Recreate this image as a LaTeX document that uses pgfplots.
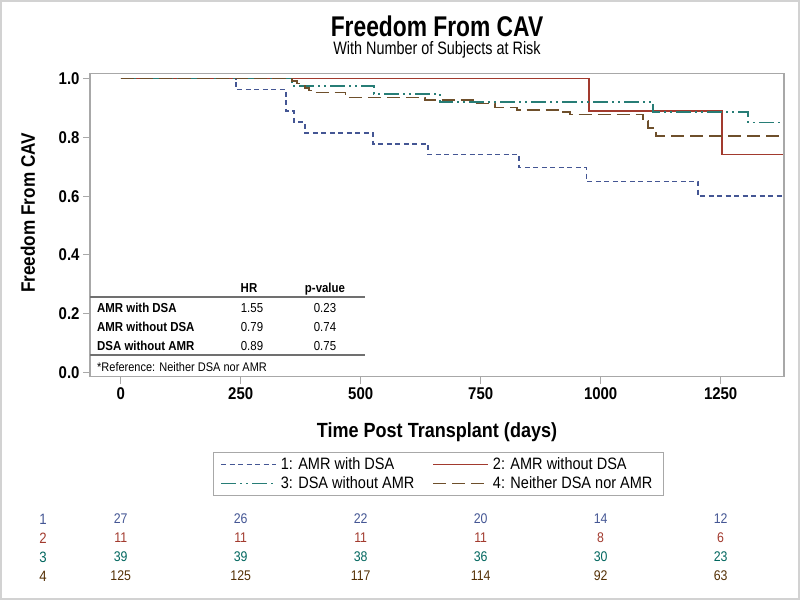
\documentclass[border=0pt]{standalone}
\usepackage{pgfplots}
\pgfplotsset{compat=1.18}
\usepackage{fontspec}
\setmainfont{Liberation Sans}[FakeStretch=0.88]
\newfontfamily\titlefont{Liberation Sans}[FakeStretch=0.80]
\definecolor{cA}{HTML}{445694}
\definecolor{cB}{HTML}{A23A2E}
\definecolor{cC}{HTML}{01665E}
\definecolor{cD}{HTML}{543005}
\definecolor{framegray}{HTML}{A8A8A8}
\definecolor{rulegray}{HTML}{707070}
\begin{document}
\begin{tikzpicture}
\useasboundingbox (0,0) rectangle (800bp,600bp);
\draw[gray!35, line width=2bp] (1bp,1bp) rectangle (799bp,599bp);
\node[anchor=base, inner sep=0pt, text depth=0pt, font=\titlefont\bfseries\fontsize{28.5bp}{30bp}\selectfont] at (437bp,563.5bp) {Freedom From CAV};
\node[anchor=base, inner sep=0pt, text height=12bp, font=\titlefont\fontsize{18bp}{20bp}\selectfont] at (437bp,545bp) {With Number of Subjects at Risk};
\begin{axis}[
  at={(90bp,223.3bp)}, anchor=south west,
  scale only axis, width=694bp, height=303.4bp,
  xmin=-64, xmax=1382, ymin=-0.014, ymax=1.018,
  xtick={0,250,500,750,1000,1250},
  ytick={0,0.2,0.4,0.6,0.8,1.0},
  xtick pos=bottom, ytick pos=left,
  tick align=outside, major tick length=7bp,
  tick style={framegray, line width=1bp},
  axis line style={framegray, line width=1.2bp},
  /pgf/number format/assume math mode=true,
  /pgf/number format/1000 sep={},
  yticklabel style={/pgf/number format/.cd, fixed, fixed zerofill, precision=1},
  tick label style={font=\bfseries\fontsize{17bp}{20bp}\selectfont},
  xlabel={Time Post Transplant (days)},
  ylabel={Freedom From CAV},
  xlabel style={font=\bfseries\fontsize{20.5bp}{24bp}\selectfont, at={(axis description cs:0.5,0)}, anchor=center, yshift=-55bp},
  ylabel style={font=\bfseries\fontsize{19.5bp}{22bp}\selectfont, at={(axis description cs:-0.0893,0.54)}, anchor=center},
  clip=false,
  legend columns=2,
  legend cell align=left,
  legend image code/.code={\draw[#1] (0bp,0bp) -- (55bp,0bp);},
  legend style={at={(axis description cs:0.502,-0.248)}, anchor=north, draw=framegray, line width=0.8bp,
    font=\fontsize{16.5bp}{19bp}\selectfont, inner xsep=7bp, inner ysep=4bp, row sep=2.5bp,
    nodes={inner ysep=1.5bp, inner xsep=4bp},
    /tikz/every even column/.append style={column sep=14bp}},
]
\addplot[const plot, cA, line width=1.5bp, dash pattern=on 5bp off 3.5bp] coordinates {
(0,1) (240,0.963) (344,0.889) (361,0.852) (384,0.815) (526,0.778) (640,0.741) (830,0.698) (971,0.650) (1203,0.600) (1380,0.600)};
\addlegendentry{1: AMR with DSA}
\addplot[const plot, cB, line width=1.5bp] coordinates {
(0,1) (976,0.889) (1253,0.741) (1380,0.741)};
\addlegendentry{2: AMR without DSA}
\addplot[const plot, cC!85!white, line width=1.5bp, dash pattern=on 15bp off 4bp on 2bp off 4bp on 2bp off 4bp] coordinates {
(0,1) (357,0.974) (528,0.947) (665,0.920) (1109,0.886) (1307,0.851) (1380,0.851)};
\addlegendentry{3: DSA without AMR}
\addplot[const plot, cD!85!white, line width=1.5bp, dash pattern=on 13bp off 6bp] coordinates {
(0,1) (357,0.992) (367,0.984) (376,0.976) (384,0.968) (392,0.960) (401,0.952) (468,0.936) (634,0.928) (734,0.915) (780,0.902) (826,0.894) (919,0.886) (936,0.877) (1088,0.855) (1099,0.832) (1115,0.804) (1380,0.804)};
\addlegendentry{4: Neither DSA nor AMR}
% numbers at risk
\pgfkeys{/tmp/risk/.style={anchor=center, font=\fontsize{14bp}{16bp}\selectfont}}
\node[/tmp/risk, cA] at (axis cs:0,-0.498) {27};
\node[/tmp/risk, cA] at (axis cs:250,-0.498) {26};
\node[/tmp/risk, cA] at (axis cs:500,-0.498) {22};
\node[/tmp/risk, cA] at (axis cs:750,-0.498) {20};
\node[/tmp/risk, cA] at (axis cs:1000,-0.498) {14};
\node[/tmp/risk, cA] at (axis cs:1250,-0.498) {12};
\node[/tmp/risk, cB] at (axis cs:0,-0.563) {11};
\node[/tmp/risk, cB] at (axis cs:250,-0.563) {11};
\node[/tmp/risk, cB] at (axis cs:500,-0.563) {11};
\node[/tmp/risk, cB] at (axis cs:750,-0.563) {11};
\node[/tmp/risk, cB] at (axis cs:1000,-0.563) {8};
\node[/tmp/risk, cB] at (axis cs:1250,-0.563) {6};
\node[/tmp/risk, cC] at (axis cs:0,-0.627) {39};
\node[/tmp/risk, cC] at (axis cs:250,-0.627) {39};
\node[/tmp/risk, cC] at (axis cs:500,-0.627) {38};
\node[/tmp/risk, cC] at (axis cs:750,-0.627) {36};
\node[/tmp/risk, cC] at (axis cs:1000,-0.627) {30};
\node[/tmp/risk, cC] at (axis cs:1250,-0.627) {23};
\node[/tmp/risk, cD] at (axis cs:0,-0.692) {125};
\node[/tmp/risk, cD] at (axis cs:250,-0.692) {125};
\node[/tmp/risk, cD] at (axis cs:500,-0.692) {117};
\node[/tmp/risk, cD] at (axis cs:750,-0.692) {114};
\node[/tmp/risk, cD] at (axis cs:1000,-0.692) {92};
\node[/tmp/risk, cD] at (axis cs:1250,-0.692) {63};
\end{axis}
% group labels of the at-risk table
\begin{scope}[every node/.style={anchor=center, font=\fontsize{15bp}{17bp}\selectfont}]
\node[cA] at (43bp,81bp) {1};
\node[cB] at (43bp,62bp) {2};
\node[cC] at (43bp,43bp) {3};
\node[cD] at (43bp,24bp) {4};
\end{scope}
% inset hazard-ratio table
\begin{scope}[every node/.style={font=\fontsize{13bp}{15bp}\selectfont, inner sep=0pt}]
\node[anchor=base, font=\bfseries\fontsize{13bp}{15bp}\selectfont] at (249bp,307.5bp) {HR};
\node[anchor=base, font=\bfseries\fontsize{13bp}{15bp}\selectfont] at (325bp,307.5bp) {p-value};
\draw[rulegray, line width=1.6bp] (90bp,303bp) -- (365bp,303bp);
\node[anchor=base west, font=\bfseries\fontsize{13bp}{15bp}\selectfont] at (97bp,287.5bp) {AMR with DSA};
\node[anchor=base west, font=\bfseries\fontsize{13bp}{15bp}\selectfont] at (97bp,268.5bp) {AMR without DSA};
\node[anchor=base west, font=\bfseries\fontsize{13bp}{15bp}\selectfont] at (97bp,249.5bp) {DSA without AMR};
\node[anchor=base] at (252bp,287.5bp) {1.55};
\node[anchor=base] at (252bp,268.5bp) {0.79};
\node[anchor=base] at (252bp,249.5bp) {0.89};
\node[anchor=base] at (325bp,287.5bp) {0.23};
\node[anchor=base] at (325bp,268.5bp) {0.74};
\node[anchor=base] at (325bp,249.5bp) {0.75};
\draw[rulegray, line width=1.6bp] (90bp,245bp) -- (365bp,245bp);
\node[anchor=base west, font=\fontsize{12.5bp}{15bp}\selectfont] at (97bp,228.5bp) {*Reference: Neither DSA nor AMR};
\end{scope}
\end{tikzpicture}
\end{document}
